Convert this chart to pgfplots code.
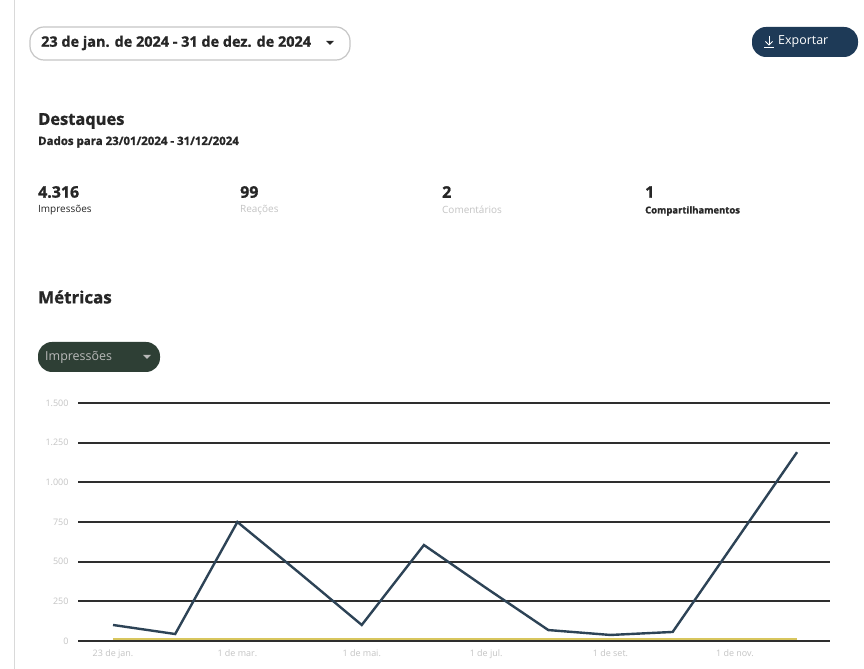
\documentclass[border=0pt]{standalone}
\usepackage{pgfplots}
\pgfplotsset{compat=1.18}
\usepackage{fontspec}
\setmainfont{Open Sans}[BoldFeatures={FakeBold=1.2}]

\definecolor{txt}{HTML}{262626}
\definecolor{navy}{HTML}{1E3A57}
\definecolor{pillgreen}{HTML}{2E3F35}
\definecolor{gridc}{HTML}{2E2E2E}
\definecolor{linec}{HTML}{2D4356}
\definecolor{yel}{HTML}{D8C65E}
\definecolor{faint}{HTML}{C4C4C4}

\newcommand{\fs}[1]{\fontsize{#1}{#1}\selectfont}

\begin{document}
\begin{tikzpicture}
\path[fill=white,use as bounding box] (0,0) rectangle (864bp,669bp);

\begin{scope}[shift={(0,669bp)},x=1bp,y=-1bp]
  \draw[gray!30,line width=1bp] (14,0) -- (14,669);
  % date selector
  \draw[gray!45,line width=1.2bp,rounded corners=14bp,fill=white] (30,27) rectangle (350,60);
  \node[anchor=west,inner sep=0,text=txt,font=\fs{14.5}\bfseries] at (41,43) {23 de jan. de 2024 - 31 de dez. de 2024};
  \fill[txt] (326,41) -- (334,41) -- (330,45) -- cycle;
  % export button
  \fill[navy,rounded corners=14bp] (752,27) rectangle (858,57);
  \draw[white,line width=1bp] (769,36) -- (769,45);
  \draw[white,line width=1bp] (765.5,41.5) -- (769,45) -- (772.5,41.5);
  \draw[white,line width=1bp] (764,48) -- (774,48);
  \node[anchor=west,inner sep=0,text=white,font=\fs{12.5}] at (778,42) {Exportar};
  % highlights
  \node[anchor=west,inner sep=0,text=txt,font=\fs{16.5}\bfseries] at (38,121) {Destaques};
  \node[anchor=west,inner sep=0,text=txt,font=\fs{11.5}\bfseries] at (38,142) {Dados para 23/01/2024 - 31/12/2024};
  \node[anchor=west,inner sep=0,text=txt,font=\fs{16}\bfseries] at (38,192) {4.316};
  \node[anchor=west,inner sep=0,text=txt,font=\fs{10}] at (38,210) {Impressões};
  \node[anchor=west,inner sep=0,text=txt,font=\fs{16}\bfseries] at (240,192) {99};
  \node[anchor=west,inner sep=0,text=faint,font=\fs{10}] at (240,210) {Reações};
  \node[anchor=west,inner sep=0,text=txt,font=\fs{16}\bfseries] at (442,192) {2};
  \node[anchor=west,inner sep=0,text=faint,font=\fs{10}] at (442,210) {Comentários};
  \node[anchor=west,inner sep=0,text=txt,font=\fs{16}\bfseries] at (645,192) {1};
  \node[anchor=west,inner sep=0,text=txt,font=\fs{9.5}\bfseries] at (645,211) {Compartilhamentos};
  % metrics
  \node[anchor=west,inner sep=0,text=txt,font=\fs{17}\bfseries] at (38,297) {Métricas};
  \fill[pillgreen,rounded corners=14bp] (38,342) rectangle (160,372);
  \node[anchor=west,inner sep=0,text=gray!55!white,font=\fs{12.5}] at (45,357) {Impressões};
  \fill[gray!55!white] (143,355) -- (151,355) -- (147,359) -- cycle;
\end{scope}

\begin{axis}[
    at={(78bp,28bp)}, anchor=south west,
    scale only axis,
    width=752bp, height=238bp,
    xmin=0.437, xmax=12.53,
    ymin=0, ymax=1500,
    axis line style={draw=none},
    major tick length=0pt,
    ymajorgrids,
    grid style={line width=2bp, color=gridc},
    xtick={1,3,5,7,9,11},
    xticklabels={23 de jan., 1 de mar., 1 de mai., 1 de jul., 1 de set., 1 de nov.},
    ytick={0,250,500,750,1000,1250,1500},
    yticklabels={0,250,500,750,1.000,1.250,1.500},
    /pgf/number format/assume math mode=true,
    tick label style={font=\fs{9}, text=faint},
    yticklabel style={xshift=-6bp},
    xticklabel style={yshift=-5bp},
    clip=false,
]
\addplot[yel, line width=1.8bp] coordinates {
(1,14) (2,14) (3,14) (4,14) (5,14) (6,14) (7,14) (8,14) (9,14) (10,14) (11,14) (12,14)};
\addplot[linec, line width=2.4bp] coordinates {
(1,101) (2,44) (3,750) (4,428) (5,101) (6,605) (7,334) (8,69) (9,38) (10,57) (11,623) (12,1190)};
\end{axis}
\end{tikzpicture}
\end{document}
